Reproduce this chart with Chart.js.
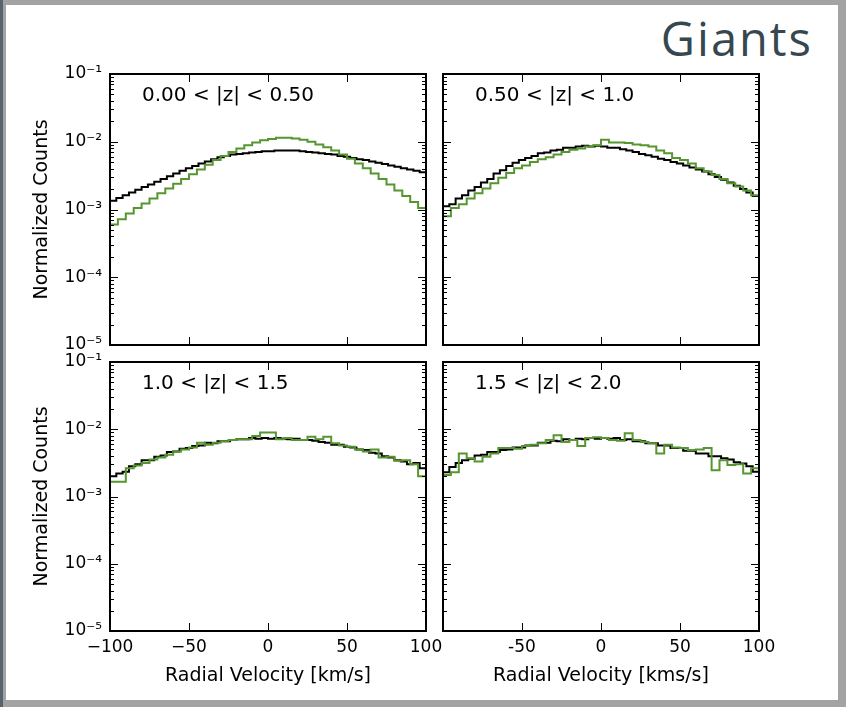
<!DOCTYPE html>
<html>
<head>
<meta charset="utf-8">
<script src="https://cdn.jsdelivr.net/npm/chart.js@4.4.1/dist/chart.umd.min.js"></script>
<style>
  html, body { margin: 0; padding: 0; }
  body { width: 846px; height: 707px; background: #a3a3a3; position: relative; overflow: hidden; }
  #edge { position: absolute; left: 0; top: 0; width: 3px; height: 707px; background: #56646e; }
  #sheet { position: absolute; left: 6px; top: 5px; width: 832px; height: 695px; background: #fff; }
  #title { position: absolute; right: 33px; top: 10px; font: 500 47px "Open Sans", sans-serif; letter-spacing: 2px; color: #37474f; line-height: 56px; }
  .panel { position: absolute; }
</style>
</head>
<body>
<div id="edge"></div>
<div id="sheet"></div>
<div id="title">Giants</div>
<div class="panel" style="left:0;top:60px;width:460px;height:305px"><canvas id="p1"></canvas></div>
<div class="panel" style="left:436px;top:60px;width:360px;height:305px"><canvas id="p2"></canvas></div>
<div class="panel" style="left:0;top:348px;width:460px;height:352px"><canvas id="p3"></canvas></div>
<div class="panel" style="left:436px;top:348px;width:360px;height:352px"><canvas id="p4"></canvas></div>
<script>
const velocityMin = -100;
const velocityMax = 100;

const zRanges = ['0.00 < |z| < 0.50', '0.50 < |z| < 1.0', '1.0 < |z| < 1.5', '1.5 < |z| < 2.0'];

const yTicks = [1e-5, 1e-4, 1e-3, 1e-2, 1e-1];
const yTickLabels = ['10⁻⁵', '10⁻⁴', '10⁻³', '10⁻²', '10⁻¹'];
const xTicksLeft = [-100, -50, 0, 50, 100];
const xTickLabelsLeft = ['−100', '−50', '0', '50', '100'];
const xTicksRight = [-50, 0, 50, 100];
const xTickLabelsRight = ['-50', '0', '50', '100'];
const xTitles = ['Radial Velocity [km/s]', 'Radial Velocity [kms/s]'];

// black histograms, 4 km/s bins from -100 to 100
const black1 = [1.35e-3, 1.48e-3, 1.62e-3, 1.78e-3, 1.95e-3, 2.14e-3, 2.34e-3, 2.57e-3, 2.82e-3, 3.09e-3,
  3.39e-3, 3.72e-3, 4.07e-3, 4.37e-3, 4.79e-3, 5.13e-3, 5.50e-3, 5.89e-3, 6.17e-3, 6.46e-3,
  6.61e-3, 6.76e-3, 6.92e-3, 7.08e-3, 7.24e-3, 7.24e-3, 7.41e-3, 7.41e-3, 7.41e-3, 7.41e-3,
  7.24e-3, 7.08e-3, 6.92e-3, 6.76e-3, 6.61e-3, 6.46e-3, 6.17e-3, 6.03e-3, 5.75e-3, 5.50e-3,
  5.37e-3, 5.13e-3, 4.90e-3, 4.68e-3, 4.47e-3, 4.27e-3, 4.07e-3, 3.89e-3, 3.72e-3, 3.55e-3];
const black2 = [1.12e-3, 1.20e-3, 1.45e-3, 1.62e-3, 1.91e-3, 2.14e-3, 2.51e-3, 2.82e-3, 3.39e-3, 3.80e-3,
  4.37e-3, 4.90e-3, 5.37e-3, 5.75e-3, 6.17e-3, 6.76e-3, 6.92e-3, 7.41e-3, 7.59e-3, 8.13e-3,
  8.13e-3, 8.51e-3, 8.71e-3, 8.51e-3, 8.71e-3, 8.51e-3, 8.13e-3, 8.13e-3, 7.76e-3, 7.41e-3,
  7.08e-3, 6.61e-3, 6.31e-3, 6.03e-3, 5.62e-3, 5.37e-3, 5.01e-3, 4.79e-3, 4.47e-3, 4.17e-3,
  3.89e-3, 3.63e-3, 3.31e-3, 3.02e-3, 2.75e-3, 2.51e-3, 2.24e-3, 2.00e-3, 1.78e-3, 1.58e-3];
const black3 = [2.00e-3, 2.19e-3, 2.34e-3, 2.82e-3, 3.02e-3, 3.47e-3, 3.47e-3, 3.89e-3, 4.07e-3, 4.57e-3,
  4.68e-3, 5.13e-3, 5.25e-3, 5.62e-3, 5.75e-3, 6.31e-3, 6.17e-3, 6.61e-3, 6.61e-3, 6.92e-3,
  7.08e-3, 7.08e-3, 7.41e-3, 7.24e-3, 7.41e-3, 7.24e-3, 7.41e-3, 7.24e-3, 7.08e-3, 7.24e-3,
  6.92e-3, 6.92e-3, 6.76e-3, 6.46e-3, 6.31e-3, 5.89e-3, 5.89e-3, 5.50e-3, 5.37e-3, 5.01e-3,
  4.90e-3, 4.47e-3, 4.37e-3, 3.98e-3, 3.80e-3, 3.47e-3, 3.31e-3, 3.02e-3, 3.16e-3, 2.63e-3];
const black4 = [2.29e-3, 2.75e-3, 3.16e-3, 3.47e-3, 3.63e-3, 4.07e-3, 4.17e-3, 4.57e-3, 4.57e-3, 4.90e-3,
  5.01e-3, 5.37e-3, 5.37e-3, 5.75e-3, 5.75e-3, 6.31e-3, 6.31e-3, 6.76e-3, 6.61e-3, 7.08e-3,
  6.92e-3, 7.24e-3, 7.08e-3, 7.41e-3, 7.24e-3, 7.41e-3, 7.24e-3, 7.41e-3, 6.92e-3, 7.08e-3,
  6.61e-3, 6.61e-3, 6.17e-3, 6.17e-3, 5.75e-3, 5.75e-3, 5.25e-3, 5.25e-3, 4.79e-3, 4.79e-3,
  4.37e-3, 4.37e-3, 3.98e-3, 3.98e-3, 3.72e-3, 3.55e-3, 3.24e-3, 3.09e-3, 2.82e-3, 2.34e-3];

// green histograms, 5 km/s bins from -100 to 100
const green1 = [6.0e-4, 7.2e-4, 8.7e-4, 1.05e-3, 1.23e-3, 1.45e-3, 1.74e-3, 2.04e-3, 2.40e-3, 2.82e-3,
  3.31e-3, 3.89e-3, 4.57e-3, 5.37e-3, 6.17e-3, 7.08e-3, 7.94e-3, 8.91e-3, 9.77e-3, 1.05e-2,
  1.10e-2, 1.15e-2, 1.15e-2, 1.12e-2, 1.07e-2, 1.00e-2, 9.12e-3, 8.32e-3, 7.41e-3, 6.46e-3,
  5.62e-3, 4.79e-3, 4.07e-3, 3.39e-3, 2.82e-3, 2.34e-3, 1.91e-3, 1.58e-3, 1.29e-3, 1.05e-3];
const green2 = [7.94e-4, 1.05e-3, 1.20e-3, 1.45e-3, 1.74e-3, 2.04e-3, 2.45e-3, 2.95e-3, 3.47e-3, 4.07e-3,
  4.47e-3, 5.01e-3, 5.50e-3, 5.89e-3, 6.46e-3, 7.08e-3, 7.59e-3, 7.94e-3, 8.51e-3, 8.91e-3,
  1.07e-2, 9.77e-3, 9.77e-3, 9.55e-3, 9.12e-3, 8.91e-3, 8.51e-3, 7.41e-3, 6.76e-3, 5.75e-3,
  5.37e-3, 4.79e-3, 4.07e-3, 3.63e-3, 3.24e-3, 2.82e-3, 2.45e-3, 2.19e-3, 1.91e-3, 1.62e-3];
const green3 = [1.66e-3, 1.66e-3, 2.63e-3, 2.88e-3, 3.16e-3, 3.55e-3, 3.80e-3, 4.17e-3, 4.68e-3, 5.01e-3,
  5.37e-3, 6.31e-3, 5.89e-3, 6.31e-3, 6.61e-3, 6.92e-3, 7.08e-3, 7.08e-3, 7.94e-3, 8.91e-3,
  8.91e-3, 7.08e-3, 7.41e-3, 6.92e-3, 6.92e-3, 7.76e-3, 7.08e-3, 7.76e-3, 6.17e-3, 5.75e-3,
  5.50e-3, 5.01e-3, 4.68e-3, 5.01e-3, 3.80e-3, 3.89e-3, 3.39e-3, 3.47e-3, 3.02e-3, 2.00e-3];
const green4 = [2.09e-3, 2.29e-3, 4.37e-3, 3.72e-3, 3.31e-3, 3.89e-3, 4.37e-3, 5.25e-3, 5.25e-3, 5.13e-3,
  5.62e-3, 5.89e-3, 6.17e-3, 6.92e-3, 8.13e-3, 6.46e-3, 6.92e-3, 5.62e-3, 7.41e-3, 7.59e-3,
  7.41e-3, 6.92e-3, 6.76e-3, 8.71e-3, 6.92e-3, 6.46e-3, 6.17e-3, 4.37e-3, 5.89e-3, 5.37e-3,
  5.25e-3, 4.90e-3, 5.01e-3, 5.25e-3, 2.45e-3, 3.47e-3, 2.95e-3, 3.02e-3, 2.19e-3, 2.63e-3];

const FONT = '"DejaVu Sans", sans-serif';

// histogram bin edges -> step line points
function stepPoints(values) {
  const w = (velocityMax - velocityMin) / values.length;
  const pts = values.map((v, i) => ({x: velocityMin + i * w, y: v}));
  pts.push({x: velocityMax, y: values[values.length - 1]});
  return pts;
}

const framePlugin = {
  id: 'frame',
  afterDatasetsDraw(chart, args, opts) {
    const {ctx, chartArea: a} = chart;
    const x = chart.scales.x, y = chart.scales.y;
    ctx.save();
    ctx.strokeStyle = '#000';
    ctx.lineWidth = 1;
    const seg = (x1, y1, x2, y2) => { ctx.beginPath(); ctx.moveTo(x1, y1); ctx.lineTo(x2, y2); ctx.stroke(); };
    for (let e = -5; e <= -1; e++) {
      for (let k = 1; k <= 9; k++) {
        if (e === -1 && k > 1) break;
        const py = Math.round(y.getPixelForValue(k * Math.pow(10, e))) + 0.5;
        const len = k === 1 ? 8 : 4;
        seg(a.left, py, a.left + len, py);
        seg(a.right, py, a.right - len, py);
      }
    }
    [-50, 0, 50].forEach(v => {
      const px = Math.round(x.getPixelForValue(v)) + 0.5;
      seg(px, a.top, px, a.top + 8);
      seg(px, a.bottom, px, a.bottom - 8);
    });
    ctx.lineWidth = 2;
    ctx.strokeRect(a.left, a.top, a.right - a.left, a.bottom - a.top);
    ctx.fillStyle = '#000';
    ctx.font = '20px ' + FONT;
    ctx.textBaseline = 'middle';
    ctx.textAlign = 'left';
    ctx.fillText(opts.text, a.left + 32, a.top + 22);
    ctx.restore();
  }
};

function makePanel(id, idx, black, green, isLeft, isBottom) {
  const yWidth = isLeft ? 110 : 7;
  const xHeight = isBottom ? 69 : 20;
  const xTicks = isLeft ? xTicksLeft : xTicksRight;
  const xLabels = isLeft ? xTickLabelsLeft : xTickLabelsRight;
  new Chart(document.getElementById(id), {
    type: 'line',
    data: {
      datasets: [
        {data: stepPoints(green), borderColor: '#55962f', borderWidth: 2, stepped: true, pointRadius: 0, fill: false},
        {data: stepPoints(black), borderColor: '#000000', borderWidth: 2, stepped: true, pointRadius: 0, fill: false}
      ]
    },
    options: {
      responsive: true,
      maintainAspectRatio: false,
      animation: false,
      layout: {padding: {top: 14, right: isLeft ? 34 : 37, left: 0, bottom: 0}},
      plugins: {
        legend: {display: false},
        tooltip: {enabled: false},
        frame: {text: zRanges[idx]}
      },
      scales: {
        x: {
          type: 'linear',
          min: velocityMin,
          max: velocityMax,
          afterBuildTicks: s => { s.ticks = xTicks.map(v => ({value: v})); },
          afterFit: s => { s.height = xHeight; s.paddingLeft = 0; s.paddingRight = 0; },
          grid: {display: false, drawTicks: false},
          border: {display: false},
          ticks: {
            display: isBottom,
            autoSkip: false,
            maxRotation: 0,
            padding: 6,
            color: '#000',
            font: {family: FONT, size: 17},
            callback: (v, i) => xLabels[i]
          },
          title: {
            display: isBottom,
            text: xTitles[isLeft ? 0 : 1],
            color: '#000',
            font: {family: FONT, size: 19},
            padding: {top: 0, bottom: 13}
          }
        },
        y: {
          type: 'logarithmic',
          min: 1e-5,
          max: 1e-1,
          afterBuildTicks: s => { s.ticks = yTicks.map(v => ({value: v})); },
          afterFit: s => { s.width = yWidth; s.paddingTop = 0; s.paddingBottom = 0; },
          grid: {display: false, drawTicks: false},
          border: {display: false},
          ticks: {
            display: isLeft,
            autoSkip: false,
            padding: 8,
            color: '#000',
            font: {family: FONT, size: 17},
            callback: (v, i) => yTickLabels[i]
          },
          title: {
            display: isLeft,
            text: 'Normalized Counts',
            color: '#000',
            font: {family: FONT, size: 19},
            padding: {top: 31, bottom: 0}
          }
        }
      }
    },
    plugins: [framePlugin]
  });
}

makePanel('p1', 0, black1, green1, true, false);
makePanel('p2', 1, black2, green2, false, false);
makePanel('p3', 2, black3, green3, true, true);
makePanel('p4', 3, black4, green4, false, true);
</script>
</body>
</html>
